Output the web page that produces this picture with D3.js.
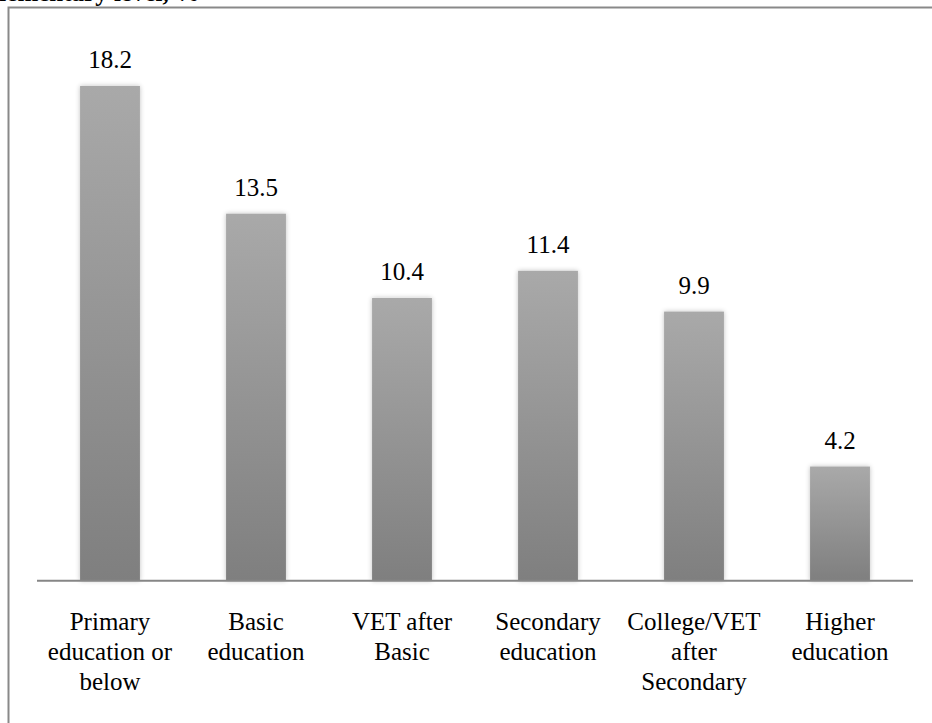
<!DOCTYPE html>
<html>
<head>
<meta charset="utf-8">
<script src="https://cdn.jsdelivr.net/npm/d3@7"></script>
<style>
  body { margin: 0; background: #fff; }
  svg { display: block; }
</style>
</head>
<body>
<svg id="chartsvg"></svg>
<script>
// chart data
var categories = ["Primary education or below", "Basic education", "VET after Basic",
	"Secondary education", "College/VET after Secondary", "Higher education"];
var categoryLines = [
	["Primary", "education or", "below"],
	["Basic", "education"],
	["VET after", "Basic"],
	["Secondary", "education"],
	["College/VET", "after", "Secondary"],
	["Higher", "education"]
];
var values = [18.2, 13.5, 10.4, 11.4, 9.9, 4.2];
var valueLabels = ["18.2", "13.5", "10.4", "11.4", "9.9", "4.2"];

var W = 932, H = 723;
var plot = {left: 37, right: 913, top: 37, baseline: 580.7};
var serif = "Liberation Serif";

var svg = d3.select("#chartsvg").attr("width", W).attr("height", H);

//gradient + soft shadow for the bars
var defs = svg.append("defs");
var grad = defs.append("linearGradient").attr("id", "bargrad")
	.attr("x1", 0).attr("y1", 0).attr("x2", 0).attr("y2", 1);
grad.append("stop").attr("offset", "0%").attr("stop-color", "#a9a9a9");
grad.append("stop").attr("offset", "100%").attr("stop-color", "#7f7f7f");
var filt = defs.append("filter").attr("id", "barshadow")
	.attr("x", "-20%").attr("y", "-5%").attr("width", "140%").attr("height", "110%");
filt.append("feGaussianBlur").attr("in", "SourceAlpha").attr("stdDeviation", 2.5).attr("result", "blur");
filt.append("feComponentTransfer").attr("in", "blur").attr("result", "soft")
	.append("feFuncA").attr("type", "linear").attr("slope", 0.25);
var merge = filt.append("feMerge");
merge.append("feMergeNode").attr("in", "soft");
merge.append("feMergeNode").attr("in", "SourceGraphic");

//title, cut off by the top edge as in the source image
svg.append("text")
	.attr("x", 200).attr("y", 1)
	.attr("text-anchor", "end")
	.style("font-family", serif).style("font-size", "25px")
	.style("font-weight", "bold")
	.text("Elementary level, %");

//frame (runs off the right and bottom of the picture)
svg.append("path")
	.attr("d", "M8.5," + H + "V7.5H" + W)
	.attr("fill", "none").attr("stroke", "#898989").attr("stroke-width", 2);

var x = d3.scaleBand().domain(categories)
	.range([plot.left, plot.right])
	.paddingInner(0.59).paddingOuter(0.295);
var y = d3.scaleLinear().domain([0, 20]).range([plot.baseline, plot.top]);

svg.selectAll("rect.bar").data(values).enter().append("rect")
	.attr("class", "bar")
	.attr("x", function(d, i) { return x(categories[i]); })
	.attr("y", function(d) { return y(d); })
	.attr("width", x.bandwidth())
	.attr("height", function(d) { return y(0) - y(d); })
	.attr("fill", "url(#bargrad)")
	.attr("filter", "url(#barshadow)");

//baseline axis
svg.append("line")
	.attr("x1", plot.left).attr("x2", plot.right)
	.attr("y1", y(0)).attr("y2", y(0))
	.attr("stroke", "#868686").attr("stroke-width", 2);

//value labels
svg.selectAll("text.val").data(values).enter().append("text")
	.attr("class", "val")
	.style("font-family", serif).style("font-size", "25px")
	.attr("text-anchor", "middle")
	.attr("x", function(d, i) { return x(categories[i]) + x.bandwidth() / 2; })
	.attr("y", function(d) { return y(d) - 18; })
	.text(function(d, i) { return valueLabels[i]; });

//category labels
var cat = svg.selectAll("text.cat").data(categoryLines).enter().append("text")
	.attr("class", "cat")
	.style("font-family", serif).style("font-size", "25px")
	.attr("text-anchor", "middle")
	.attr("y", 630);
cat.selectAll("tspan").data(function(d, i) { return d.map(function(s) { return {s: s, i: i}; }); })
	.enter().append("tspan")
	.attr("x", function(d) { return x(categories[d.i]) + x.bandwidth() / 2; })
	.attr("dy", function(d, j) { return j ? 30 : 0; })
	.text(function(d) { return d.s; });
</script>
</body>
</html>
